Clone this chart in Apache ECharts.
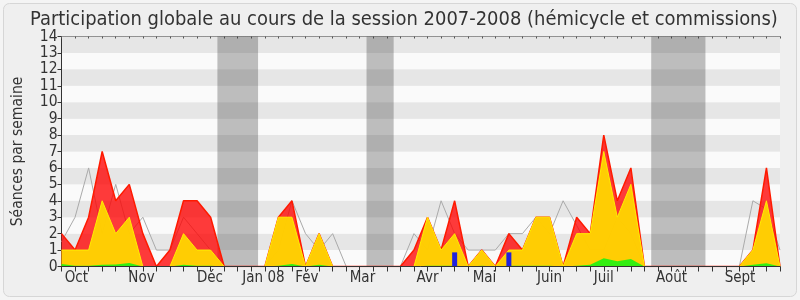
<!DOCTYPE html>
<html>
<head>
<meta charset="utf-8">
<script src="https://cdn.jsdelivr.net/npm/echarts@6/dist/echarts.min.js"></script>
<style>html,body{margin:0;padding:0;background:#f4f4f4}#c{width:800px;height:300px}</style>
</head>
<body>
<div id="c"></div>
<script>
// Weekly data, session 2007-2008 (index = week)
const total =    [2,1,3,7,4,5,2,0,1,4,4,3,0,0,0,0,3,4,0,2,0,0,0,0,0,0,1,3,1,4,0,1,0,2,1,3,3,0,3,2,8,4,6,0,0,0,0,0,0,0,0,1,6,0];
const hemicycle =[1,1,1,4,2,3,0,0,0,2,1,1,0,0,0,0,3,3,0,2,0,0,0,0,0,0,0,3,1,2,0,1,0,1,1,3,3,0,2,2,7,3,5,0,0,0,0,0,0,0,0,1,4,0];
const green =    [0.15,0.05,0.05,0.1,0.12,0.22,0,0,0,0.1,0.05,0.05,0,0,0,0,0.05,0.15,0,0.1,0,0,0,0,0,0,0,0.05,0.05,0.05,0,0.05,0,0.05,0.05,0.05,0.05,0,0.05,0.1,0.5,0.32,0.45,0,0,0,0,0,0,0,0,0.1,0.2,0];
const median =   [1.5,3,6,2,5,2,3,1,1,3,2,1,0,0,0,0,1,4,2,1,2,0,0,0,0,0,2,1,4,2,1,1,1,2,2,3,2,4,2.5,1,1,3,2,0,0,0,0,0,0,0,0,4,3.5,1];
const questions = [[29,0.86],[33,0.86]];
const monthPos =   [1.1,5.9,10.95,14.9,18.1,22.2,27,31.2,36,40,45,50.05];
const monthNames = ['Oct','Nov','Déc','Jan 08','Fév','Mar','Avr','Mai','Juin','Juil','Août','Sept'];
const vacations = [[11.5,14.5],[22.5,24.5],[43.5,47.5]];
const yTicks = [0,1,2,3,4,5,6,7,8,9,10,11,12,13,14];

const weekIdx = total.map((v,i)=>i);
const pairs = arr => arr.map((v,i)=>[i,v]);
const font = 'DejaVu Sans Condensed, DejaVu Sans, sans-serif';

const chart = echarts.init(document.getElementById('c'), null, {renderer:'canvas'});
chart.setOption({
  backgroundColor:'#f4f4f4',
  animation:false,
  graphic:[{type:'rect', z:-10, shape:{x:3.5,y:3.5,width:793,height:293,r:6}, style:{fill:'#efefef', stroke:'#d6d6d6', lineWidth:1}}],
  title:{text:'Participation globale au cours de la session 2007-2008 (hémicycle et commissions)', left:25, top:5,
    textStyle:{fontFamily:font, fontSize:19.95, fontWeight:'normal', color:'#333'}},
  grid:{left:61.5, right:20, top:36.5, bottom:33.5},
  xAxis:[{
    type:'value', min:0, max:total.length-1, interval:1, z:10,
    axisLine:{show:true, lineStyle:{color:'#333', width:1}},
    axisTick:{show:true, length:5, customValues:weekIdx, lineStyle:{color:'#333'}},
    axisLabel:{customValues:monthPos, fontFamily:font, fontSize:15, color:'#333', margin:4,
      formatter:v=>{let b=0;for(let i=0;i<monthPos.length;i++){if(Math.abs(monthPos[i]-v)<Math.abs(monthPos[b]-v))b=i;}return monthNames[b];}},
    splitLine:{show:false}
  },{
    type:'value', position:'top', min:0, max:total.length-1, interval:1,
    axisLine:{show:true, lineStyle:{color:'#888', type:'dotted', width:1}},
    axisTick:{show:true, inside:true, length:2, customValues:weekIdx, lineStyle:{color:'#555'}},
    axisLabel:{show:false}, splitLine:{show:false}
  }],
  yAxis:{
    type:'value', min:0, max:14, interval:1,
    name:'Séances par semaine', nameLocation:'middle', nameGap:36, nameRotate:90,
    nameTextStyle:{fontFamily:font, fontSize:15.5, color:'#333'},
    axisLine:{show:true, lineStyle:{color:'#333'}},
    axisTick:{show:true, length:4, lineStyle:{color:'#333'}},
    axisLabel:{fontFamily:font, fontSize:15.5, color:'#333', margin:4, customValues:yTicks},
    splitLine:{show:false},
    splitArea:{show:true, areaStyle:{color:['#fafafa','#e6e6e6']}}
  },
  series:[
    {type:'line', name:'vacances', data:[], silent:true,
      markArea:{silent:true, itemStyle:{color:'rgba(50,50,50,0.3)'}, data:vacations.map(v=>[{xAxis:v[0]},{xAxis:v[1]}])}},
    {type:'line', name:'médiane', data:pairs(median), symbol:'none', z:2,
      lineStyle:{color:'#aaaaaa', width:1}},
    {type:'line', name:'total', data:pairs(total), symbol:'none', z:3,
      lineStyle:{color:'#ff1a00', width:1.5}, areaStyle:{color:'#ff0000', opacity:0.77, origin:'start'}},
    {type:'line', name:'hémicycle', data:pairs(hemicycle), symbol:'none', z:4,
      lineStyle:{color:'#ffee00', width:1}, areaStyle:{color:'#ffd700', opacity:0.94, origin:'start'}},
    {type:'line', name:'commission', data:pairs(green), symbol:'none', z:5,
      lineStyle:{width:0}, areaStyle:{color:'#33ee11', opacity:1, origin:'start'}},
    {type:'bar', name:'questions', data:questions, barWidth:5, z:6, itemStyle:{color:'#2222dd'}}
  ]
});
</script>
</body>
</html>
